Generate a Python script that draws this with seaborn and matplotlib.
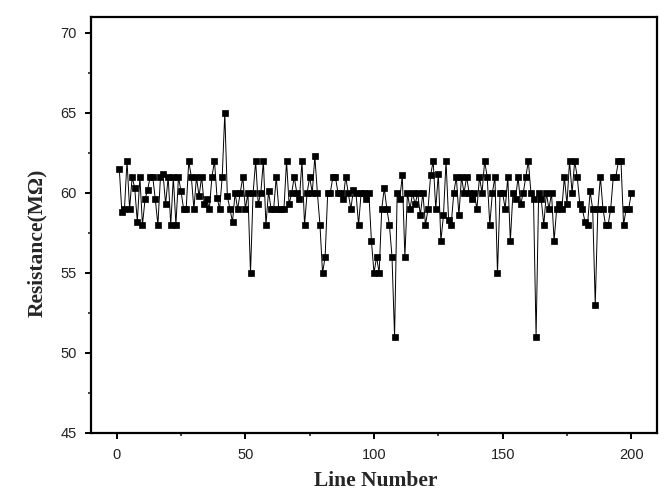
import numpy as np
import pandas as pd
import matplotlib
matplotlib.use("Agg")
import matplotlib.pyplot as plt
from matplotlib.ticker import MultipleLocator
import seaborn as sns

line_number = list(range(1, 201))
resistance = [
    61.5, 58.8, 59.0, 62.0, 59.0, 61.0, 60.3, 58.2, 61.0, 58.0,
    59.6, 60.2, 61.0, 61.0, 59.6, 58.0, 61.0, 61.2, 59.3, 61.0,
    58.0, 61.0, 58.0, 61.0, 60.1, 59.0, 59.0, 62.0, 61.0, 59.0,
    61.0, 59.8, 61.0, 59.3, 59.6, 59.0, 61.0, 62.0, 59.7, 59.0,
    61.0, 65.0, 59.8, 59.0, 58.2, 60.0, 59.0, 60.0, 61.0, 59.0,
    60.0, 55.0, 60.0, 62.0, 59.3, 60.0, 62.0, 58.0, 60.1, 59.0,
    59.0, 61.0, 59.0, 59.0, 59.0, 62.0, 59.3, 60.0, 61.0, 60.0,
    59.6, 62.0, 58.0, 60.0, 61.0, 60.0, 62.3, 60.0, 58.0, 55.0,
    56.0, 60.0, 60.0, 61.0, 61.0, 60.0, 60.0, 59.6, 61.0, 60.0,
    59.0, 60.2, 60.0, 58.0, 60.0, 60.0, 59.6, 60.0, 57.0, 55.0,
    56.0, 55.0, 59.0, 60.3, 59.0, 58.0, 56.0, 51.0, 60.0, 59.6,
    61.1, 56.0, 60.0, 59.0, 60.0, 59.3, 60.0, 58.6, 60.0, 58.0,
    59.0, 61.1, 62.0, 59.0, 61.2, 57.0, 58.6, 62.0, 58.3, 58.0,
    60.0, 61.0, 58.6, 61.0, 60.0, 61.0, 60.0, 59.6, 60.0, 59.0,
    61.0, 60.0, 62.0, 61.0, 58.0, 60.0, 61.0, 55.0, 60.0, 60.0,
    59.0, 61.0, 57.0, 60.0, 59.6, 61.0, 59.3, 60.0, 61.0, 62.0,
    60.0, 59.6, 51.0, 60.0, 59.6, 58.0, 60.0, 59.0, 60.0, 57.0,
    59.0, 59.3, 59.0, 61.0, 59.3, 62.0, 60.0, 62.0, 61.0, 59.3,
    59.0, 58.2, 58.0, 60.1, 59.0, 53.0, 59.0, 61.0, 59.0, 58.0,
    58.0, 59.0, 61.0, 61.0, 62.0, 62.0, 58.0, 59.0, 59.0, 60.0,
]
x_ticks = [0, 50, 100, 150, 200]
y_ticks = [45, 50, 55, 60, 65, 70]
x_label = "Line Number"
y_label = "Resistance(M\u03a9)"

df = pd.DataFrame({"Line Number": line_number, "Resistance": resistance})

sns.set_style("ticks")
plt.rcParams["font.family"] = ["Liberation Sans", "DejaVu Sans"]

fig = plt.figure(figsize=(6.71, 5.01), dpi=100)
ax = fig.add_axes([91 / 671, 1 - 433 / 501, (657 - 91) / 671, (433 - 17) / 501])

sns.lineplot(data=df, x="Line Number", y="Resistance", ax=ax, color="black",
             linewidth=0.7, marker="s", markersize=4.8, markeredgecolor="black",
             markerfacecolor="black", markeredgewidth=0.5)

ax.set_xlim(-10, 210)
ax.set_ylim(45, 71)
ax.set_xticks(x_ticks)
ax.set_yticks(y_ticks)
ax.xaxis.set_minor_locator(MultipleLocator(25))
ax.yaxis.set_minor_locator(MultipleLocator(2.5))
ax.tick_params(which="major", direction="out", length=4.5, width=1.4,
               labelsize=10.5, colors="black", labelcolor="#222222", pad=6)
ax.tick_params(which="minor", direction="out", length=2.5, width=1.2)
for s in ax.spines.values():
    s.set_linewidth(1.6)
    s.set_color("black")
    s.set_visible(True)

ax.set_xlabel(x_label, fontsize=15.5, fontweight="bold",
              family=["Liberation Serif", "DejaVu Serif"])
ax.set_ylabel(y_label, fontsize=15.5, fontweight="bold",
              family=["Liberation Serif", "DejaVu Serif"])
ax.xaxis.set_label_coords(0.5035, -0.115)
ax.yaxis.set_label_coords(-0.095, 0.457)
ax.xaxis.label.set_va("center")
ax.yaxis.label.set_va("center")

fig.savefig("out.png", dpi=100)
